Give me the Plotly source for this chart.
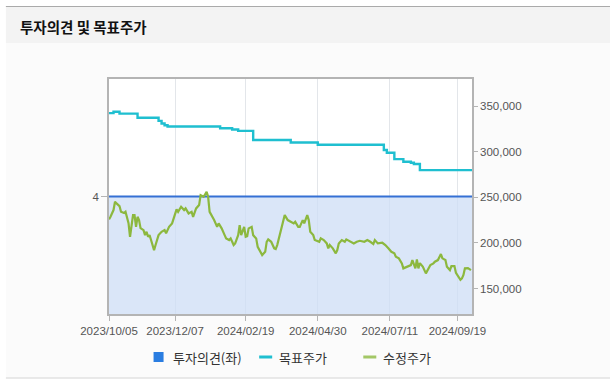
import plotly.graph_objects as go

# ---------------- data ----------------
tick_days = [0, 44, 91, 139, 187, 232]
tick_labels = ["2023/10/05", "2023/12/07", "2024/02/19", "2024/04/30", "2024/07/11", "2024/09/19"]
last_day = 241.7

opinion_days = [0, 241.7]
opinion_vals = [4, 4]

target_days = [0, 3, 7, 19, 33, 35, 37, 39, 74, 82, 86, 96, 121, 139, 183, 185, 190, 196, 201, 203, 207, 241.7]
target_vals = [342500, 344000, 342000, 337500, 334000, 331200, 329300, 327900, 326000, 324600, 323100,
               313000, 310300, 307800, 302000, 299000, 292000, 289200, 288000, 286600, 280000, 280000]

price_days = [0, 1, 3, 4, 5, 7, 8, 10, 11, 12, 13, 14, 15, 16, 17, 18, 19, 20, 21, 23, 24, 25, 26, 27, 28,
              30, 31, 32, 33, 35, 37, 38, 40, 42, 44, 45, 46, 48, 50, 51, 53, 55, 56, 57, 58, 60, 61, 63,
              65, 66, 67, 70, 72, 73, 75, 77, 78, 80, 81, 83, 84, 86, 87, 88, 90, 91, 92, 93, 95, 96, 98,
              99, 101, 102, 104, 105, 106, 108, 110, 111, 112, 114, 116, 117, 119, 121, 123, 124, 126, 127,
              129, 130, 132, 133, 134, 136, 137, 140, 141, 143, 145, 146, 147, 149, 151, 152, 153, 155, 157,
              158, 161, 163, 165, 167, 170, 172, 174, 176, 177, 179, 182, 184, 186, 188, 190, 191, 193, 195,
              196, 198, 201, 202, 204, 205, 206, 207, 209, 211, 212, 214, 216, 217, 219, 221, 222, 224, 225,
              227, 228, 230, 231, 233, 234, 235, 236, 237, 239, 241]
price_vals = [225900, 228700, 236100, 245200, 243400, 240500, 234200, 232800, 234200, 228700, 221800, 206800,
              217700, 230600, 230600, 217700, 228700, 225100, 216300, 214100, 208600, 212300, 206800, 208600,
              203200, 192200, 197700, 203200, 208600, 212300, 214100, 210500, 217700, 221500, 232400, 236800,
              234200, 239700, 236100, 237900, 232400, 234200, 228700, 232400, 237900, 241600, 252500, 250700,
              256100, 250700, 234200, 225100, 217700, 221500, 216000, 208600, 205000, 203200, 205000, 197700,
              199500, 208600, 219600, 208600, 217700, 206800, 207500, 216000, 217700, 208600, 205000, 195800,
              190300, 186700, 190300, 201300, 203900, 201300, 194100, 193300, 197700, 210500, 223200, 230600,
              225100, 223200, 221500, 223200, 217700, 217700, 225100, 221500, 230600, 225100, 212300, 208600,
              203200, 201300, 205000, 203200, 199500, 194100, 197700, 194100, 188600, 192200, 199500, 203200,
              201300, 203900, 201300, 199500, 201300, 202400, 201300, 203200, 201300, 198800, 203200, 199500,
              200200, 197700, 194100, 190300, 188600, 184800, 183100, 177600, 172100, 173900, 175700, 181200,
              172100, 182000, 172100, 177900, 173900, 166600, 170200, 175700, 177600, 179400, 181200, 187800,
              183100, 181200, 173900, 170200, 174600, 174600, 167300, 162900, 159500, 161100, 164800, 172100,
              172400, 170200]

right_ticks = [150000, 200000, 250000, 300000, 350000]
right_tick_labels = ["150,000", "200,000", "250,000", "300,000", "350,000"]

title_text = "투자의견 및 목표주가"
legend_names = ["투자의견(좌)", "목표주가", "수정주가"]

# ---------------- style ----------------
C_OPINION = "#3570d4"
C_OPINION_LEG = "#2a7de1"
C_FILL = "rgba(205,222,245,0.75)"
C_TARGET = "#1fbfd0"
C_PRICE = "#8cb83e"
C_PRICE_LEG = "#a3c766"
GRID = "#e3e6ea"
AXIS = "#b4b4b4"
TICKFONT = dict(family="Liberation Sans, Arial, sans-serif", size=11.5, color="#555555")
KFONT = "Noto Sans CJK KR, sans-serif"

W, H = 610, 387
L, R, T, B = 109, 471.6, 79, 314


def px(x):
    return (x - L) / (R - L)


def py(y):
    return (B - y) / (B - T)


fig = go.Figure()

fig.add_trace(go.Scatter(x=opinion_days, y=opinion_vals, mode="lines", name=legend_names[0],
                         line=dict(color=C_OPINION, width=2.2), fill="tozeroy", fillcolor=C_FILL,
                         yaxis="y", showlegend=False, hoverinfo="skip"))
fig.add_trace(go.Scatter(x=target_days, y=target_vals, mode="lines", name=legend_names[1],
                         line=dict(color=C_TARGET, width=2.4, shape="hv"), yaxis="y2", showlegend=False))
fig.add_trace(go.Scatter(x=price_days, y=price_vals, mode="lines", name=legend_names[2],
                         line=dict(color=C_PRICE, width=2.2), yaxis="y2", showlegend=False))

shapes = [
    # page outer strips (white)
    dict(type="rect", xref="paper", yref="paper", x0=px(0), x1=px(W), y0=py(0), y1=py(6),
         fillcolor="#ffffff", line_width=0, layer="below"),
    dict(type="rect", xref="paper", yref="paper", x0=px(0), x1=px(6), y0=py(0), y1=py(H),
         fillcolor="#ffffff", line_width=0, layer="below"),
    dict(type="rect", xref="paper", yref="paper", x0=px(0), x1=px(W), y0=py(378.5), y1=py(H),
         fillcolor="#ffffff", line_width=0, layer="below"),
    # title band
    dict(type="rect", xref="paper", yref="paper", x0=px(6), x1=px(W), y0=py(6.5), y1=py(43),
         fillcolor="#f3f3f3", line_width=0, layer="below"),
    dict(type="line", xref="paper", yref="paper", x0=px(6), x1=px(W), y0=py(6.5), y1=py(6.5),
         line=dict(color="#aaaaaa", width=1.2), layer="below"),
    dict(type="line", xref="paper", yref="paper", x0=px(6), x1=px(W), y0=py(378), y1=py(378),
         line=dict(color="#d6d6d6", width=1.2), layer="below"),
    # legend symbols
    dict(type="rect", xref="paper", yref="paper", x0=px(153.5), x1=px(163.5), y0=py(352), y1=py(362),
         fillcolor=C_OPINION_LEG, line_width=0),
    dict(type="line", xref="paper", yref="paper", x0=px(259), x1=px(272), y0=py(357), y1=py(357),
         line=dict(color=C_TARGET, width=3)),
    dict(type="line", xref="paper", yref="paper", x0=px(363), x1=px(376), y0=py(357), y1=py(357),
         line=dict(color=C_PRICE_LEG, width=3)),
]

annotations = [
    dict(text=f"<b>{title_text}</b>", xref="paper", yref="paper", x=px(18.5), y=py(27),
         xanchor="left", yanchor="middle", showarrow=False,
         font=dict(family=KFONT, size=14.5, color="#111111")),
    dict(text=legend_names[0], xref="paper", yref="paper", x=px(171), y=py(357),
         xanchor="left", yanchor="middle", showarrow=False, font=dict(family=KFONT, size=13, color="#333333")),
    dict(text=legend_names[1], xref="paper", yref="paper", x=px(276.5), y=py(357),
         xanchor="left", yanchor="middle", showarrow=False, font=dict(family=KFONT, size=13, color="#333333")),
    dict(text=legend_names[2], xref="paper", yref="paper", x=px(381), y=py(357),
         xanchor="left", yanchor="middle", showarrow=False, font=dict(family=KFONT, size=13, color="#333333")),
]

fig.update_layout(
    width=W, height=H,
    margin=dict(l=L, r=W - R, t=T, b=H - B, pad=0),
    paper_bgcolor="#fbfbfb", plot_bgcolor="#ffffff",
    showlegend=False,
    shapes=shapes, annotations=annotations,
    xaxis=dict(range=[0, last_day], tickvals=tick_days, ticktext=tick_labels, tickfont=TICKFONT,
               showgrid=True, gridcolor=GRID, gridwidth=1, zeroline=False,
               showline=True, linecolor=AXIS, linewidth=1.5, mirror=True,
               ticks="outside", ticklen=5, tickcolor=AXIS),
    yaxis=dict(range=[0, 8], tickvals=[4], ticktext=["4"], tickfont=TICKFONT,
               showgrid=False, zeroline=False, showline=True, linecolor=AXIS, linewidth=1.5,
               ticks="outside", ticklen=6, tickcolor=AXIS),
    yaxis2=dict(range=[122000, 380000], overlaying="y", side="right", tickvals=right_ticks,
                ticktext=right_tick_labels, tickfont=TICKFONT, showgrid=False, zeroline=False,
                showline=True, linecolor=AXIS, linewidth=1.5, ticks="outside", ticklen=4, tickcolor=AXIS),
)

fig.write_html("out.html", config={"displayModeBar": False},
               post_script="document.body.style.margin='0';document.body.style.padding='0';"
                           "document.documentElement.style.overflow='hidden';")
